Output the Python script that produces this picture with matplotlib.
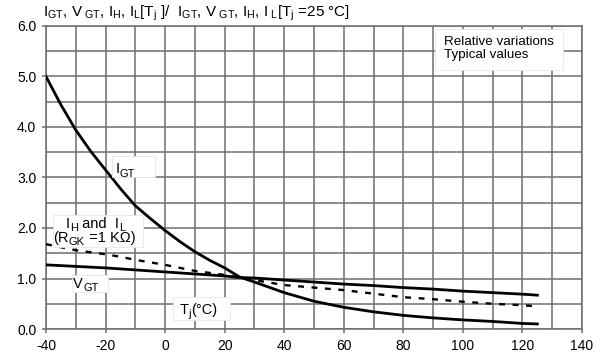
import matplotlib
matplotlib.use("Agg")
import matplotlib.pyplot as plt
import numpy as np
from matplotlib.patches import Rectangle

plt.rcParams['font.family'] = ['Liberation Sans', 'DejaVu Sans']
plt.rcParams['mathtext.fontset'] = 'custom'
plt.rcParams['mathtext.rm'] = 'Liberation Sans'
plt.rcParams['mathtext.it'] = 'Liberation Sans'
plt.rcParams['mathtext.default'] = 'rm'

# Junction temperature (°C)
tj = [-40, -35, -30, -25, -20, -15, -10, -5, 0, 5, 10, 15, 20, 25, 30, 40, 50, 60, 70,
      80, 90, 100, 110, 120, 125]
# Relative gate trigger current
igt = [5.0, 4.44, 3.94, 3.52, 3.15, 2.78, 2.44, 2.19, 1.95, 1.73, 1.53, 1.36, 1.21, 1.03,
       0.93, 0.72, 0.55, 0.43, 0.34, 0.27, 0.22, 0.18, 0.15, 0.11, 0.10]
# Relative gate trigger voltage
vgt = [1.27, 1.255, 1.24, 1.225, 1.21, 1.19, 1.17, 1.15, 1.13, 1.11, 1.09, 1.07, 1.05,
       1.02, 1.01, 0.97, 0.93, 0.89, 0.86, 0.82, 0.79, 0.75, 0.72, 0.69, 0.67]
# Relative holding / latching current (RGK = 1 kOhm)
ih_il = [1.68, 1.62, 1.56, 1.52, 1.48, 1.43, 1.37, 1.32, 1.27, 1.21, 1.15, 1.11, 1.07,
         1.02, 0.97, 0.87, 0.82, 0.77, 0.70, 0.63, 0.59, 0.54, 0.50, 0.47, 0.45]

x_ticks = [-40, -20, 0, 20, 40, 60, 80, 100, 120, 140]
y_ticks = [0.0, 1.0, 2.0, 3.0, 4.0, 5.0, 6.0]

GRID = '#6e6e6e'
GRID_LW = 1.1

fig = plt.figure(figsize=(6.06, 3.54), dpi=100)
ax = fig.add_axes([0.0759, 0.0706, 0.8845, 0.856])

ax.set_xlim(-40, 140)
ax.set_ylim(0, 6)

# grid every 10 °C and every 0.5
ax.vlines(np.arange(-40, 141, 10), 0, 6, colors=GRID, lw=GRID_LW, zorder=2)
ax.hlines(np.arange(0, 6.01, 0.5), -40, 140, colors=GRID, lw=GRID_LW, zorder=2)

ax.plot(tj, igt, color='black', lw=2.0, zorder=3, solid_joinstyle='round')
ax.plot(tj, vgt, color='black', lw=2.0, zorder=3)
ax.plot(tj, ih_il, color='black', lw=1.7, ls=(0, (2.5, 3.2)), zorder=3)

ax.set_xticks(x_ticks)
ax.set_yticks(y_ticks)
ax.set_xticklabels([str(v) for v in x_ticks])
ax.set_yticklabels([f"{v:.1f}" for v in y_ticks])
ax.tick_params(which='major', length=3, width=GRID_LW, color=GRID, labelsize=10, pad=4)
for s in ax.spines.values():
    s.set_color(GRID)
    s.set_linewidth(GRID_LW)


def label_box(x0, x1, y0, y1):
    ax.add_patch(Rectangle((x0, y0), x1 - x0, y1 - y0, facecolor='white',
                           edgecolor='#e8e8e8', lw=0.6, zorder=4))


def rich(x, y, parts, fs=10.5, sub_fs=8.0, sub_dy=-1.5):
    """Draw text pieces side by side; pieces flagged True are lowered and smaller."""
    first = ax.text(x, y, parts[0][0], fontsize=fs, ha='left', va='bottom', zorder=5)
    prev = first
    for s, sub in parts[1:]:
        prev = ax.annotate(s, xy=(1, 0), xycoords=(prev, first),
                           xytext=(0, sub_dy if sub else 0), textcoords='offset points',
                           fontsize=sub_fs if sub else fs, ha='left', va='bottom', zorder=5)


label_box(-18.0, -3.4, 3.00, 3.43)
rich(-16.6, 3.02, [('I', False), ('GT', True)])

label_box(-37.8, -7.4, 1.63, 2.26)
rich(-33.3, 1.95, [('I', False), ('H', True), (' and  I', False), ('L', True)])
rich(-37.6, 1.66, [('(R', False), ('GK', True), (' =1 K\u03a9)', False)])

label_box(-31.4, -19.1, 0.74, 1.07)
rich(-30.8, 0.76, [('V', False), ('GT', True)])

label_box(2.7, 21.8, 0.18, 0.64)
rich(4.8, 0.23, [('T', False), ('j', True), ('(°C)', False)])

label_box(90.5, 133.5, 5.13, 5.94)
ax.text(93.5, 5.55, 'Relative variations\nTypical values', fontsize=9.6, ha='left',
        va='center', linespacing=1.15, zorder=5)

fig.text(43 / 606, 1 - 13 / 354,
         r'I$_{\mathrm{GT}}$, V$_{\mathrm{\ GT}}$, I$_{\mathrm{H}}$, I$_{\mathrm{L}}$[T$_{\mathrm{j}}$ ]/  '
         r'I$_{\mathrm{GT}}$, V$_{\mathrm{\ GT}}$, I$_{\mathrm{H}}$, I$_{\mathrm{\ L}}$[T$_{\mathrm{j}}$ =25 °C]',
         fontsize=11, ha='left', va='center')

fig.savefig('out.png', dpi=100)
